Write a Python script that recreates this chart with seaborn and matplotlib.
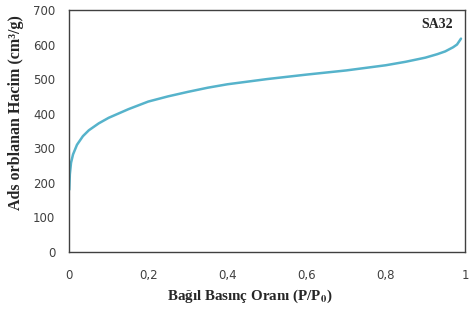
import matplotlib
matplotlib.use("Agg")
import matplotlib.pyplot as plt
import numpy as np
import pandas as pd
import seaborn as sns

# Izoterm verisi
basinc = [0.0005, 0.002, 0.005, 0.01, 0.02, 0.035, 0.05, 0.075, 0.1, 0.15, 0.2, 0.25,
          0.3, 0.35, 0.4, 0.5, 0.6, 0.7, 0.8, 0.85, 0.9, 0.93, 0.95, 0.97, 0.98, 0.99]
hacim = [180, 225, 258, 282, 310, 335, 352, 372, 388, 413, 435, 450,
         463, 475, 485, 500, 513, 525, 540, 550, 562, 572, 580, 592, 600, 617]
x_ticks = [0, 0.2, 0.4, 0.6, 0.8, 1]
x_tick_labels = ["0", "0,2", "0,4", "0,6", "0,8", "1"]
y_ticks = [0, 100, 200, 300, 400, 500, 600, 700]

df = pd.DataFrame({"basinc": basinc, "hacim": hacim})

sns.set_style("white")
plt.rcParams["font.family"] = ["DejaVu Sans"]
plt.rcParams["mathtext.fontset"] = "stix"

fig = plt.figure(figsize=(4.73, 3.2), dpi=100)
ax = fig.add_axes([0.146, 0.2125, 0.837, 0.7565])

sns.lineplot(data=df, x="basinc", y="hacim", ax=ax, color="#56B3CB", linewidth=1.8)

ax.set_xlim(0, 1)
ax.set_ylim(0, 700)
ax.set_xticks(x_ticks)
ax.set_xticklabels(x_tick_labels)
ax.set_yticks(y_ticks)
ax.tick_params(axis="x", length=0, pad=12, labelsize=8.5, colors="#404040")
ax.tick_params(axis="y", length=0, pad=10, labelsize=8.5, colors="#404040")

for s in ax.spines.values():
    s.set_color("#404040")
    s.set_linewidth(1)

ax.set_xlabel("Bağıl Basınç Oranı (P/P$_\\mathbf{0}$)", family="Liberation Serif",
              fontweight="bold", fontsize=10.8)
ax.set_ylabel("Ads orblanan Hacim (cm³/g)", family="Liberation Serif",
              fontweight="bold", fontsize=11.5)
ax.xaxis.set_label_coords(0.457, -0.148)
ax.yaxis.set_label_coords(-0.114, 0.578)

ax.text(0.97, 0.938, "SA32", transform=ax.transAxes, ha="right", va="center",
        family="Liberation Serif", fontweight="bold", fontsize=10)

fig.savefig("out.png", dpi=100)
plt.close(fig)
